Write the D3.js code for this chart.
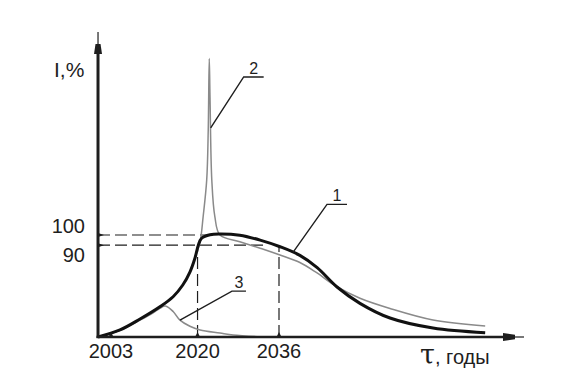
<!DOCTYPE html>
<html>
<head>
<meta charset="utf-8">
<script src="https://cdn.jsdelivr.net/npm/d3@7"></script>
<style>
  html, body { margin: 0; padding: 0; background: #fff; }
  svg { display: block; font-family: "Liberation Sans", Arial, sans-serif; }
</style>
</head>
<body>
<svg id="chart" width="571" height="390"></svg>
<script>
(function () {
  'use strict';

  // curve 1 - thick black
  var curve1Years  = [2000.45, 2004.77, 2008.7, 2012.6, 2015.2, 2017.1, 2018.5, 2019.5, 2020.15, 2020.8, 2022.45, 2024.4, 2028.3, 2032.3, 2036.2, 2040.1, 2043.5, 2047.4, 2051.9, 2057.8, 2066.25, 2076.5];
  var curve1Values = [0, 6.9, 17.6, 29.6, 39.5, 51, 63.7, 77.5, 90, 96.8, 100.3, 101, 99.8, 95, 88.5, 80, 68, 49, 33, 18.6, 8.8, 4.2];

  // curve 2 - thin grey with the peak
  var curve2Years  = [2000.45, 2004.77, 2008.7, 2012.6, 2015.2, 2017.1, 2018.5, 2019.5, 2020.5, 2021.1, 2021.8, 2022.1, 2022.3, 2022.45, 2022.8, 2023.4, 2024.4, 2028.3, 2032.3, 2036.2, 2040.1, 2043.4, 2047.3, 2051.9, 2057.8, 2066.25, 2076.5];
  var curve2Values = [0, 6.9, 17.6, 29.6, 39.5, 51, 63.7, 77.5, 93.4, 118, 154, 203, 273, 235, 154, 118, 100, 93.4, 87, 80.4, 73, 63, 49.5, 38, 28, 16.7, 10.8];

  // curve 3 - thin grey, early hump
  var curve3Years  = [2000.45, 2004.77, 2008.7, 2011.2, 2012.6, 2013.7, 2015.2, 2016.55, 2018.5, 2020.5, 2024.4, 2027, 2031.7];
  var curve3Values = [0, 6.6, 16.6, 23.5, 28.2, 30.4, 25, 16.5, 10.5, 6.9, 3.9, 2, 0.3];

  var xTickYears = [2003, 2020, 2036];
  var xTickLabels = ['2003', '2020', '2036'];
  var yTickValues = [100, 90];
  var yTickLabels = ['100', '90'];

  // callouts: label, which curve, year of the point on the curve
  var calloutLabels = ['1', '2', '3'];
  var calloutCurve = [1, 2, 3];
  var calloutYears = [2038.75, 2022.58, 2016.55];

  var svg = d3.select('#chart');

  var xScale = d3.scaleLinear()
      .domain([2003, 2036])
      .range([111, 279]);

  var yScale = d3.scaleLinear()
      .domain([0, 100])
      .range([337, 235]);

  var x0 = xScale(2000.45),
      y0 = yScale(0),
      ink = '#1e1e1e',
      grey = '#8a8a8a';

  function zipCurve (years, values) {
    return years.map(function (d, i) { return {year: d, value: values[i]}; });
  }

  var curves = {
    1: zipCurve(curve1Years, curve1Values),
    2: zipCurve(curve2Years, curve2Values),
    3: zipCurve(curve3Years, curve3Values)
  };

  function valueAt (data, year) {
    for (var i = 1; i < data.length; i++) {
      if (data[i].year >= year) {
        var a = data[i - 1], b = data[i];
        return a.value + (b.value - a.value) * (year - a.year) / (b.year - a.year);
      }
    }
    return data[data.length - 1].value;
  }

  var line = d3.line()
      .x(function (d) { return xScale(d.year); })
      .y(function (d) { return yScale(d.value); })
      .curve(d3.curveCatmullRom.alpha(0.5));

  // dashed reference lines
  var dash = svg.append('g')
      .attr('class', 'refs')
      .attr('stroke', ink)
      .attr('stroke-width', 1.2)
      .attr('stroke-dasharray', '12,5')
      .attr('fill', 'none');

  dash.append('line')
      .attr('x1', x0).attr('x2', xScale(2022.45))
      .attr('y1', yScale(100)).attr('y2', yScale(100));

  dash.append('line')
      .attr('x1', x0).attr('x2', xScale(2033.5))
      .attr('y1', yScale(90)).attr('y2', yScale(90));

  dash.selectAll('line.drop')
      .data([2020, 2036])
      .enter()
      .append('line')
      .attr('class', 'drop')
      .attr('x1', function (d) { return xScale(d); })
      .attr('x2', function (d) { return xScale(d); })
      .attr('y1', y0)
      .attr('y2', function (d) { return yScale(valueAt(curves[1], d)); });

  // curves
  svg.append('path')
      .datum(curves[3])
      .attr('fill', 'none')
      .attr('stroke', grey)
      .attr('stroke-width', 1.6)
      .attr('d', line);

  svg.append('path')
      .datum(curves[2])
      .attr('fill', 'none')
      .attr('stroke', grey)
      .attr('stroke-width', 1.5)
      .attr('d', line);

  svg.append('path')
      .datum(curves[1])
      .attr('fill', 'none')
      .attr('stroke', '#111')
      .attr('stroke-width', 3)
      .attr('stroke-linejoin', 'round')
      .attr('d', line);

  // axes with arrows
  var axes = svg.append('g').attr('class', 'axes');

  axes.append('line')
      .attr('x1', x0).attr('x2', x0)
      .attr('y1', y0 + 1).attr('y2', 45)
      .attr('stroke', ink)
      .attr('stroke-width', 3);

  axes.append('line')
      .attr('x1', x0).attr('x2', x0)
      .attr('y1', 45).attr('y2', 32)
      .attr('stroke', ink)
      .attr('stroke-width', 1.2);

  axes.append('path')
      .attr('d', 'M' + (x0 - 4) + ',54 L' + (x0 + 4) + ',54 L' + (x0 + 2.5) + ',44 L' + (x0 - 2.5) + ',44 Z')
      .attr('fill', ink);

  axes.append('line')
      .attr('x1', x0 - 1.5).attr('x2', 512)
      .attr('y1', y0).attr('y2', y0)
      .attr('stroke', ink)
      .attr('stroke-width', 2.6);

  axes.append('line')
      .attr('x1', 510).attr('x2', 524)
      .attr('y1', y0).attr('y2', y0)
      .attr('stroke', ink)
      .attr('stroke-width', 1.2);

  axes.append('path')
      .attr('d', 'M503,' + (y0 - 4) + ' L503,' + (y0 + 4) + ' L515,' + (y0 + 2.2) + ' L515,' + (y0 - 2.2) + ' Z')
      .attr('fill', ink);

  // tick marks on x axis
  axes.selectAll('path.xtick')
      .data(xTickYears)
      .enter()
      .append('path')
      .attr('class', 'xtick')
      .attr('d', function (d) {
        var x = xScale(d);
        return 'M' + (x - 2.5) + ',' + y0 + ' L' + x + ',' + (y0 - 5) + ' L' + (x + 2.5) + ',' + y0 + ' Z';
      })
      .attr('fill', ink);

  // tick marks on y axis
  axes.selectAll('path.ytick')
      .data(yTickValues)
      .enter()
      .append('path')
      .attr('class', 'ytick')
      .attr('d', function (d) {
        var y = yScale(d);
        return 'M' + x0 + ',' + (y - 2) + ' L' + (x0 + 6) + ',' + y + ' L' + x0 + ',' + (y + 2) + ' Z';
      })
      .attr('fill', ink);

  // tick labels
  svg.selectAll('text.xlabel')
      .data(xTickYears)
      .enter()
      .append('text')
      .attr('class', 'xlabel')
      .attr('x', function (d) { return xScale(d); })
      .attr('y', 358)
      .attr('text-anchor', 'middle')
      .attr('font-size', 20)
      .attr('fill', ink)
      .text(function (d, i) { return xTickLabels[i]; });

  svg.selectAll('text.ylabel')
      .data(yTickValues)
      .enter()
      .append('text')
      .attr('class', 'ylabel')
      .attr('x', 85)
      .attr('y', function (d, i) { return yScale(d) + (i === 0 ? -2 : 17); })
      .attr('text-anchor', 'end')
      .attr('font-size', 20)
      .attr('fill', ink)
      .text(function (d, i) { return yTickLabels[i]; });

  // axis titles
  svg.append('text')
      .attr('x', 54)
      .attr('y', 77)
      .attr('font-size', 21)
      .attr('fill', ink)
      .text('I,%');

  var tau = svg.append('text')
      .attr('x', 420)
      .attr('y', 364)
      .attr('fill', ink);
  tau.append('tspan')
      .attr('font-size', 27)
      .attr('font-family', '"DejaVu Serif", serif')
      .text('τ');
  tau.append('tspan')
      .attr('font-size', 20)
      .text(', годы');

  // callouts
  var leaderDx = [34, 33, 52],
      leaderDy = [-48, -51, -29],
      shelfLen = [20, 20, 14];

  calloutLabels.forEach(function (label, i) {
    var data = curves[calloutCurve[i]];
    var ax = xScale(calloutYears[i]),
        ay = yScale(valueAt(data, calloutYears[i])),
        sx = ax + leaderDx[i],
        sy = ay + leaderDy[i];

    svg.append('path')
        .attr('d', 'M' + ax + ',' + ay + ' L' + sx + ',' + sy + ' L' + (sx + shelfLen[i]) + ',' + sy)
        .attr('fill', 'none')
        .attr('stroke', ink)
        .attr('stroke-width', 1.4);

    svg.append('text')
        .attr('x', sx + shelfLen[i] / 2)
        .attr('y', sy - 3)
        .attr('text-anchor', 'middle')
        .attr('font-size', 16)
        .attr('fill', ink)
        .text(label);
  });
})();
</script>
</body>
</html>
